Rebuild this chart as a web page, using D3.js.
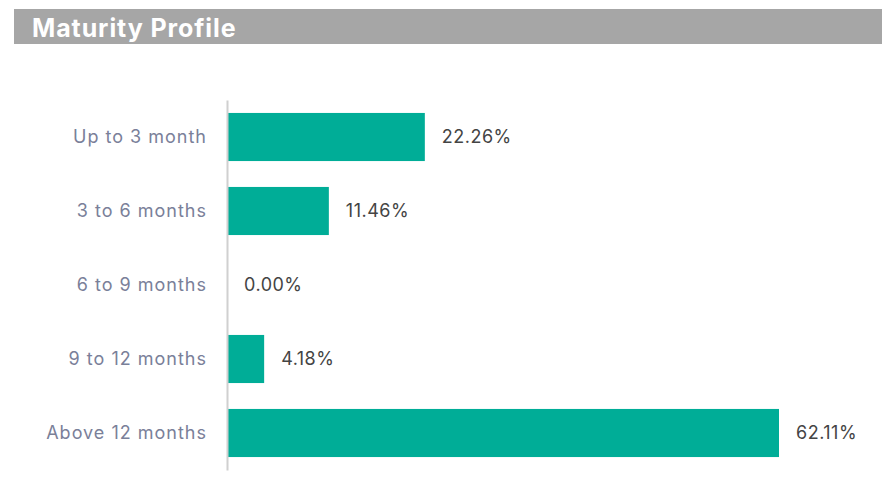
<!DOCTYPE html>
<html>
<head>
<meta charset="utf-8">
<script src="https://cdn.jsdelivr.net/npm/d3@7"></script>
<style>
  body { margin: 0; background: #fff; }
  svg { display: block; }
</style>
</head>
<body>
<svg id="chart" width="882" height="478"></svg>
<script>
// 데이터
const categories = ["Up to 3 month", "3 to 6 months", "6 to 9 months", "9 to 12 months", "Above 12 months"];
const values = [22.26, 11.46, 0.00, 4.18, 62.11];

const svg = d3.select("#chart");

// 제목 배너
svg.append("rect")
    .attr("x", 14)
    .attr("y", 9)
    .attr("width", 868)
    .attr("height", 35)
    .attr("fill", "#a6a6a6");

svg.append("text")
    .attr("x", 32)
    .attr("y", 37)
    .style("font-family", "Inter, sans-serif")
    .style("font-size", "25px")
    .style("font-weight", "bold")
    .style("letter-spacing", "0.9px")
    .style("fill", "#fff")
    .text("Maturity Profile");

const data = categories.map((c, i) => ({ label: c, value: values[i] }));

const x = d3.scaleLinear()
    .domain([0, d3.max(values)])
    .range([227, 779]);

const y = d3.scaleBand()
    .domain(categories)
    .range([100, 470])
    .paddingInner(0.35)
    .paddingOuter(0.175);

// 막대
svg.selectAll(".bar")
    .data(data)
    .enter().append("rect")
    .attr("class", "bar")
    .attr("x", x(0))
    .attr("y", d => y(d.label))
    .attr("width", d => x(d.value) - x(0))
    .attr("height", y.bandwidth())
    .attr("fill", "#00ad97");

// 세로축 (눈금 없이 선만)
const yAxis = svg.append("g")
    .attr("transform", `translate(${x(0)},0)`)
    .call(d3.axisLeft(y).tickSize(0).tickPadding(20));
yAxis.select(".domain")
    .attr("stroke", "#d0d0d0")
    .attr("stroke-width", 2);
yAxis.selectAll("text")
    .style("font-family", "Inter, sans-serif")
    .style("font-size", "18px")
    .style("letter-spacing", "1px")
    .style("fill", "#7a8099");

// 값 라벨
svg.selectAll(".label")
    .data(data)
    .enter().append("text")
    .attr("class", "label")
    .attr("x", d => x(d.value) + 17)
    .attr("y", d => y(d.label) + y.bandwidth() / 2)
    .attr("dy", "0.35em")
    .style("font-family", "Inter, sans-serif")
    .style("font-size", "18px")
    .style("letter-spacing", "0.5px")
    .style("fill", "#444")
    .text(d => d.value.toFixed(2) + "%");
</script>
</body>
</html>
